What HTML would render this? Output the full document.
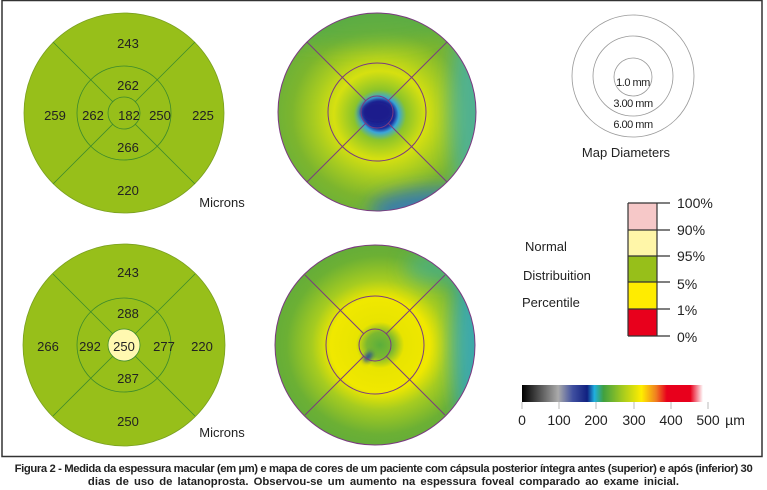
<!DOCTYPE html>
<html><head><meta charset="utf-8"><style>
html,body{margin:0;padding:0;background:#fff;width:767px;height:490px;overflow:hidden}
svg{position:absolute;left:0;top:0}
.cap{position:absolute;left:0;width:767px;text-align:center;font:bold 11.3px "Liberation Sans",sans-serif;color:#222;white-space:nowrap}
</style></head><body>
<svg width="767" height="490" viewBox="0 0 767 490" font-family="Liberation Sans, sans-serif">
<defs>
<filter id="bl" x="-50%" y="-50%" width="200%" height="200%"><feGaussianBlur stdDeviation="9"/></filter>
<filter id="bs" x="-50%" y="-50%" width="200%" height="200%"><feGaussianBlur stdDeviation="2.5"/></filter>
<radialGradient id="g1" cx="0.5" cy="0.5" r="0.5">
<stop offset="0" stop-color="#1a1a8a"/><stop offset="0.13" stop-color="#1c2fa0"/><stop offset="0.17" stop-color="#3aa6d8"/><stop offset="0.24" stop-color="#8cc42a"/><stop offset="0.42" stop-color="#d6e010"/><stop offset="0.6" stop-color="#a8cc20"/><stop offset="0.8" stop-color="#7cb52e"/><stop offset="1" stop-color="#6ab03a"/>
</radialGradient>
<radialGradient id="g2" cx="0.5" cy="0.5" r="0.5">
<stop offset="0" stop-color="#5aae3c"/><stop offset="0.12" stop-color="#7cb830"/><stop offset="0.22" stop-color="#e8e400"/><stop offset="0.45" stop-color="#f0e800"/><stop offset="0.62" stop-color="#a6cc20"/><stop offset="0.85" stop-color="#6cb034"/><stop offset="1" stop-color="#62ac3a"/>
</radialGradient>
<linearGradient id="cb" x1="0" x2="1">
<stop offset="0" stop-color="#000"/><stop offset="0.2" stop-color="#aaa"/><stop offset="0.28" stop-color="#4050a0"/><stop offset="0.36" stop-color="#102080"/><stop offset="0.4" stop-color="#20b0e0"/><stop offset="0.45" stop-color="#40a040"/><stop offset="0.55" stop-color="#a0c820"/><stop offset="0.66" stop-color="#ffee00"/><stop offset="0.74" stop-color="#f08020"/><stop offset="0.8" stop-color="#e8001c"/><stop offset="0.93" stop-color="#e8001c"/><stop offset="1" stop-color="#fff"/>
</linearGradient>
<clipPath id="c1"><circle cx="377" cy="112" r="99"/></clipPath>
<clipPath id="c2"><circle cx="375" cy="345" r="100"/></clipPath>
</defs>
<rect x="2" y="0.5" width="760" height="456" fill="none" stroke="#333" stroke-width="1.5"/>
<!-- top left -->
<g stroke="#3c8a2c" stroke-width="0.8" fill="none">
<circle cx="124" cy="113" r="100" fill="#97bf1a" stroke="#7aa020"/>
<circle cx="124" cy="113" r="47"/><circle cx="124" cy="113" r="16"/>
<line x1="53" y1="42" x2="113" y2="102"/><line x1="195" y1="42" x2="135" y2="102"/>
<line x1="53" y1="184" x2="113" y2="124"/><line x1="195" y1="184" x2="135" y2="124"/>
</g>
<g font-size="13" fill="#222" text-anchor="middle">
<text x="128" y="48">243</text><text x="128" y="90">262</text>
<text x="55" y="120">259</text><text x="93" y="120">262</text><text x="129" y="120">182</text><text x="160" y="120">250</text><text x="203" y="120">225</text>
<text x="128" y="152">266</text><text x="128" y="195">220</text>
<text x="222" y="207" font-size="13">Microns</text>
</g>
<!-- bottom left -->
<g stroke="#3c8a2c" stroke-width="0.8" fill="none">
<circle cx="124" cy="345" r="101" fill="#97bf1a" stroke="#7aa020"/>
<circle cx="124" cy="345" r="47"/><circle cx="124" cy="345" r="16" fill="#fff8b0"/>
<line x1="53" y1="274" x2="113" y2="334"/><line x1="195" y1="274" x2="135" y2="334"/>
<line x1="53" y1="416" x2="113" y2="356"/><line x1="195" y1="416" x2="135" y2="356"/>
</g>
<g font-size="13" fill="#222" text-anchor="middle">
<text x="128" y="277">243</text><text x="128" y="318">288</text>
<text x="48" y="351">266</text><text x="90" y="351">292</text><text x="124" y="351">250</text><text x="164" y="351">277</text><text x="202" y="351">220</text>
<text x="128" y="383">287</text><text x="128" y="426">250</text>
<text x="222" y="437">Microns</text>
</g>
<!-- top color map -->
<g clip-path="url(#c1)">
<rect x="270" y="10" width="220" height="210" fill="url(#g1)"/>
<g filter="url(#bl)">
<ellipse cx="350" cy="15" rx="110" ry="30" fill="#4aa850" opacity="0.5"/>
<ellipse cx="472" cy="110" rx="22" ry="90" fill="#40b0b8" opacity="0.7"/>
<ellipse cx="440" cy="210" rx="70" ry="22" fill="#2a70c8" opacity="0.8"/>
</g>
<ellipse cx="377" cy="112" rx="17" ry="12" fill="#1a1f8c" filter="url(#bs)"/>
</g>
<g stroke="#7a3a80" stroke-width="1" fill="none">
<circle cx="377" cy="112" r="99"/><circle cx="377" cy="112" r="49"/><circle cx="377" cy="112" r="16"/>
<line x1="307" y1="42" x2="366" y2="101"/><line x1="447" y1="42" x2="388" y2="101"/>
<line x1="307" y1="182" x2="366" y2="123"/><line x1="447" y1="182" x2="388" y2="123"/>
</g>
<!-- bottom color map -->
<g clip-path="url(#c2)">
<rect x="270" y="240" width="220" height="210" fill="url(#g2)"/>
<g filter="url(#bl)">
<ellipse cx="472" cy="345" rx="20" ry="85" fill="#30a8c8" opacity="0.8"/>
<ellipse cx="440" cy="268" rx="35" ry="16" fill="#40b0a0" opacity="0.6"/>
</g>
<ellipse cx="368" cy="357" rx="3" ry="6" fill="#1a3fa0" transform="rotate(40 368 357)" filter="url(#bs)"/>
</g>
<g stroke="#7a3a80" stroke-width="1" fill="none">
<circle cx="375" cy="345" r="100"/><circle cx="375" cy="345" r="49"/><circle cx="375" cy="345" r="16"/>
<line x1="305" y1="275" x2="364" y2="334"/><line x1="445" y1="275" x2="386" y2="334"/>
<line x1="305" y1="415" x2="364" y2="356"/><line x1="445" y1="415" x2="386" y2="356"/>
</g>
<!-- map diameters -->
<g stroke="#999" stroke-width="0.8" fill="none">
<circle cx="633" cy="76" r="61"/><circle cx="633" cy="76" r="40"/><circle cx="633" cy="77" r="19"/>
</g>
<g font-size="11" fill="#222" text-anchor="middle" letter-spacing="-0.5">
<text x="633" y="86">1.0 mm</text><text x="633" y="107">3.00 mm</text><text x="633" y="128">6.00 mm</text>
</g>
<text x="626" y="157" font-size="13" fill="#222" text-anchor="middle">Map Diameters</text>
<!-- legend -->
<rect x="628" y="203" width="29" height="27" fill="#f6c8c8"/>
<rect x="628" y="230" width="29" height="26" fill="#fff6a8"/>
<rect x="628" y="256" width="29" height="26" fill="#97bf1a"/>
<rect x="628" y="282" width="29" height="27" fill="#ffec00"/>
<rect x="628" y="309" width="29" height="27" fill="#e8001c"/>
<g stroke="#333" stroke-width="1.2">
<line x1="628" y1="203" x2="628" y2="336"/><line x1="657" y1="203" x2="657" y2="336"/>
<line x1="628" y1="203" x2="670" y2="203"/><line x1="628" y1="230" x2="670" y2="230"/>
<line x1="628" y1="256" x2="670" y2="256"/><line x1="628" y1="282" x2="670" y2="282"/>
<line x1="628" y1="309" x2="670" y2="309"/><line x1="628" y1="336" x2="670" y2="336"/>
</g>
<g font-size="14" fill="#222">
<text x="677" y="208">100%</text><text x="677" y="235">90%</text><text x="677" y="261">95%</text>
<text x="677" y="289">5%</text><text x="677" y="315">1%</text><text x="677" y="342">0%</text>
<text x="525" y="251" font-size="13">Normal</text><text x="523" y="280" font-size="13">Distribuition</text><text x="522" y="307" font-size="13">Percentile</text>
</g>
<!-- colorbar -->
<rect x="522" y="385" width="181" height="17" fill="url(#cb)"/>
<g stroke="#aaa" stroke-width="0.8">
<line x1="522" y1="402" x2="522" y2="409"/><line x1="559" y1="402" x2="559" y2="409"/><line x1="596" y1="402" x2="596" y2="409"/>
<line x1="634" y1="402" x2="634" y2="409"/><line x1="671" y1="402" x2="671" y2="409"/><line x1="708" y1="402" x2="708" y2="409"/>
</g>
<g font-size="14" fill="#222" text-anchor="middle">
<text x="522" y="425">0</text><text x="559" y="425">100</text><text x="596" y="425">200</text><text x="634" y="425">300</text><text x="671" y="425">400</text><text x="708" y="425">500</text>
<text x="735" y="425">µm</text>
</g>
</svg>
<div class="cap" style="top:463px;letter-spacing:-0.4px">Figura 2 - Medida da espessura macular (em µm) e mapa de cores de um paciente com cápsula posterior íntegra antes (superior) e após (inferior) 30</div>
<div class="cap" style="top:476px;letter-spacing:0px;word-spacing:2px">dias de uso de latanoprosta. Observou-se um aumento na espessura foveal comparado ao exame inicial.</div>
</body></html>
